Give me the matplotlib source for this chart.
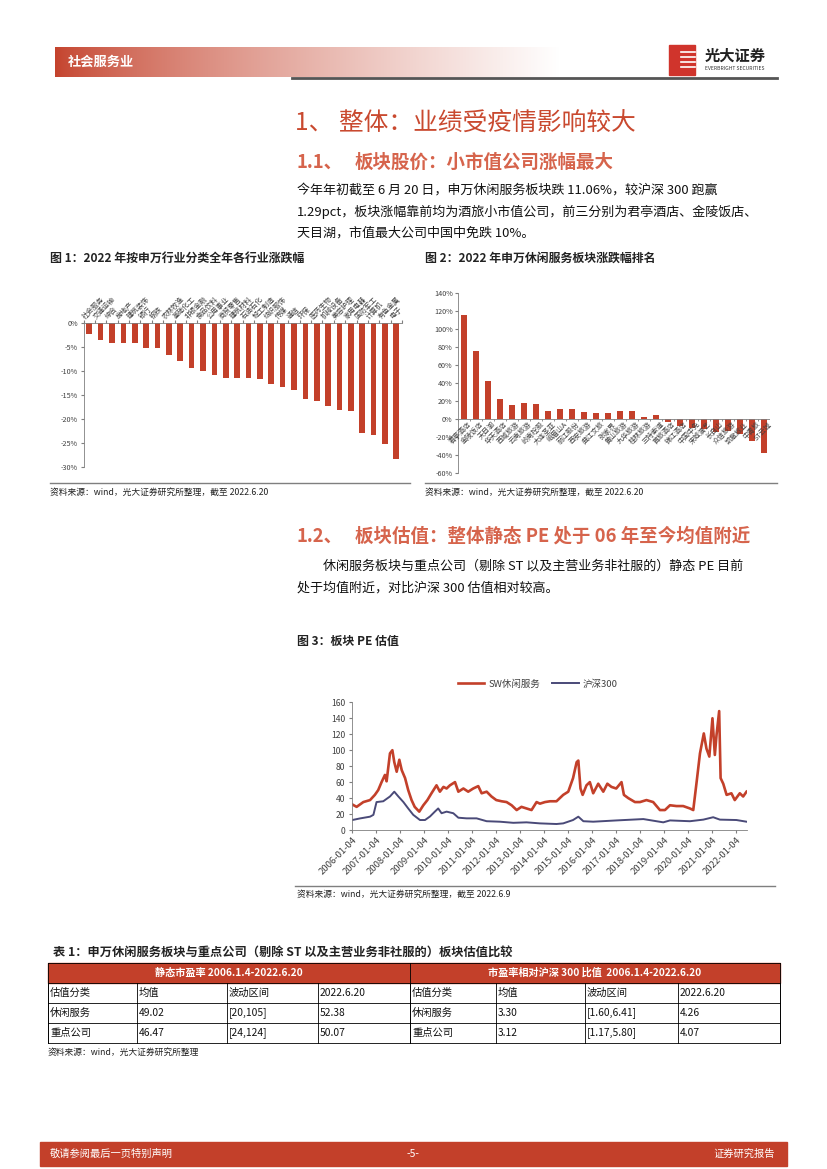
import numpy as np
import matplotlib
matplotlib.use('Agg')
import matplotlib.pyplot as plt
from matplotlib.patches import Rectangle

plt.rcParams['font.family'] = ['Noto Sans CJK SC', 'DejaVu Sans']
plt.rcParams['axes.unicode_minus'] = False

W, H = 827, 1169
RED = '#C3402A'
SALMON = '#D6644C'
GRAY = '#7F7F7F'
TXT = '#404040'

# 图1：申万一级行业涨跌幅（%）
ind_names = ['社会服务', '交通运输', '综合', '房地产', '建筑装饰', '银行', '钢铁', '农林牧渔',
             '基础化工', '非银金融', '食品饮料', '公用事业', '商贸零售', '建筑材料', '石油石化',
             '轻工制造', '纺织服饰', '传媒', '通信', '环保', '医药生物', '机械设备', '美容护理',
             '家用电器', '国防军工', '计算机', '有色金属', '电子']
ind_chg = [-2.3, -3.4, -4.2, -4.2, -4.2, -5.1, -5.1, -6.7, -7.8, -9.4, -9.9, -10.7, -11.3, -11.5,
           -11.5, -11.7, -12.6, -13.2, -13.8, -15.7, -16.1, -17.2, -18.0, -18.2, -22.9, -23.3,
           -25.1, -28.2]

# 图2：休闲服务板块个股涨跌幅（%）
stk_names = ['君亭酒店', '金陵饭店', '天目湖', '华天酒店', '西域旅游', '云南旅游', '岭南控股',
             '大连圣亚', '峨眉山A', '丽江股份', '西安旅游', '曲江文旅', '张家界', '黄山旅游',
             '九华旅游', '桂林旅游', '三特索道', '首旅酒店', '锦江酒店', '中国中免', '宋城演艺',
             '长白山', '众信旅游', '凯撒旅业', '中青旅', 'ST云城']
stk_chg = [116, 76, 42, 22, 15, 18, 17, 8.5, 11, 11, 7.4, 6.3, 6.3, 8.5, 8.5, 2.2, 4, -3.7, -8,
           -10, -11, -15, -13.7, -16.7, -25, -38]

# 图3：PE 估值
sw_x = [2006.0, 2006.18, 2006.46, 2006.74, 2006.94, 2007.08, 2007.22, 2007.36, 2007.43, 2007.57,
        2007.67, 2007.75, 2007.85, 2007.96, 2008.06, 2008.2, 2008.33, 2008.47, 2008.6, 2008.79,
        2008.96, 2009.13, 2009.3, 2009.51, 2009.65, 2009.8, 2009.93, 2010.07, 2010.28, 2010.42,
        2010.63, 2010.83, 2011.04, 2011.25, 2011.39, 2011.6, 2011.8, 2012.0, 2012.22, 2012.43,
        2012.64, 2012.85, 2013.05, 2013.26, 2013.47, 2013.68, 2013.82, 2014.03, 2014.24, 2014.51,
        2014.79, 2015.0, 2015.2, 2015.35, 2015.42, 2015.51, 2015.6, 2015.76, 2015.9, 2016.04,
        2016.25, 2016.46, 2016.63, 2016.8, 2017.0, 2017.22, 2017.32, 2017.5, 2017.78, 2017.99,
        2018.26, 2018.54, 2018.82, 2019.03, 2019.24, 2019.51, 2019.79, 2020.07, 2020.21, 2020.35,
        2020.49, 2020.65, 2020.76, 2020.88, 2021.01, 2021.11, 2021.18, 2021.29, 2021.35, 2021.46,
        2021.6, 2021.8, 2021.94, 2022.15, 2022.29, 2022.43]
sw_pe = [32, 29, 35, 37.5, 44, 50, 60, 69, 61, 96, 100, 85, 73, 88, 75, 65, 50, 37.5, 29, 23,
         31, 37.5, 46, 56, 48, 54, 52, 56, 60, 48, 52, 48, 52, 55, 46, 48, 42, 37.5, 36, 35,
         31, 25, 29, 27, 25, 35, 33, 35, 36, 36, 44, 48, 65, 85, 87, 52, 44, 56, 60, 46,
         58, 48, 58, 54, 52, 60, 44, 40, 35, 35, 37.5, 35, 25, 25, 31, 30, 30, 27, 25, 60,
         96, 121, 102, 92, 140, 94, 119, 149, 65, 58, 44, 46, 37.5, 46, 42, 48]
hs_x = [2006.0, 2006.32, 2006.74, 2006.88, 2007.01, 2007.29, 2007.57, 2007.75, 2007.92, 2008.13,
        2008.33, 2008.54, 2008.82, 2009.03, 2009.24, 2009.44, 2009.58, 2009.72, 2009.93, 2010.21,
        2010.42, 2010.76, 2011.18, 2011.6, 2012.15, 2012.71, 2013.26, 2013.82, 2014.51, 2014.79,
        2015.2, 2015.42, 2015.63, 2016.04, 2017.01, 2018.13, 2018.96, 2019.24, 2020.07, 2020.63,
        2021.04, 2021.32, 2022.01, 2022.43]
hs_pe = [12.5, 14.5, 16.7, 19, 35, 36, 42, 48, 42, 35, 27, 19, 12.5, 12.5, 17, 23, 27, 21, 23, 21,
         15.4, 14.6, 14.6, 11, 10.4, 9, 9.6, 8.3, 7.5, 8.3, 12.5, 16.7, 11, 10.4, 12, 13.7, 9.6,
         12, 11, 13, 16, 13, 12.5, 10.4]
years = list(range(2006, 2023))

# 表1
tbl_head = ['静态市盈率 2006.1.4-2022.6.20', '市盈率相对沪深 300 比值  2006.1.4-2022.6.20']
tbl_rows = [['估值分类', '均值', '波动区间', '2022.6.20', '估值分类', '均值', '波动区间', '2022.6.20'],
            ['休闲服务', '49.02', '[20,105]', '52.38', '休闲服务', '3.30', '[1.60,6.41]', '4.26'],
            ['重点公司', '46.47', '[24,124]', '50.07', '重点公司', '3.12', '[1.17,5.80]', '4.07']]

fig = plt.figure(figsize=(W / 100, H / 100), dpi=100)
bg = fig.add_axes([0, 0, 1, 1])
bg.axis('off')


def add_ax(l, t, r, b):
    return fig.add_axes([l / W, 1 - b / H, (r - l) / W, (b - t) / H])


# ---- 页眉
t = np.linspace(0, 1, 400) ** 0.75
c0 = np.array([196, 66, 44]) / 255
grad = c0[None, :] * (1 - t[:, None]) + np.ones(3)[None, :] * t[:, None]
bg.imshow(grad[None, :, :], extent=(55, 560, 77, 47), aspect='auto', zorder=0)
bg.text(68, 62, '社会服务业', color='white', fontsize=9.5, fontweight='bold', va='center')
bg.plot([292, 777], [77.5, 77.5], color='#555555', lw=2)
bg.add_patch(Rectangle((669, 45), 26, 30, color='#D0342C'))
for yy in [52, 57, 62, 67]:
    bg.plot([681, 695], [yy, yy], color='white', lw=1.2)
bg.text(705, 56, '光大证券', fontsize=11, fontweight='bold', va='center', color='#222222')
bg.text(705, 69, 'EVERBRIGHT SECURITIES', fontsize=3.6, va='center', color='#333333')

# ---- 正文
bg.text(295, 124, '1、 整体：业绩受疫情影响较大', fontsize=17.8, color='#C9492F', va='center')
bg.text(297, 162, '1.1、', fontsize=13.3, color=SALMON, va='center', fontweight='bold')
bg.text(355, 162, '板块股价：小市值公司涨幅最大', fontsize=13.3, color=SALMON, va='center', fontweight='bold')
body1 = ['今年年初截至 6 月 20 日，申万休闲服务板块跌 11.06%，较沪深 300 跑赢',
         '1.29pct，板块涨幅靠前均为酒旅小市值公司，前三分别为君亭酒店、金陵饭店、',
         '天目湖，市值最大公司中国中免跌 10%。']
for i, s in enumerate(body1):
    bg.text(297, 190 + i * 21.5, s, fontsize=9.4, va='center', color='#111111')

bg.text(50, 258, '图 1：2022 年按申万行业分类全年各行业涨跌幅', fontsize=8.6, fontweight='bold', va='center', color='#222222')
bg.text(425, 258, '图 2：2022 年申万休闲服务板块涨跌幅排名', fontsize=8.6, fontweight='bold', va='center', color='#222222')
bg.plot([50, 410], [483, 483], color=GRAY, lw=1)
bg.plot([425, 777], [483, 483], color=GRAY, lw=1)
src = '资料来源：wind，光大证券研究所整理，截至 2022.6.20'
bg.text(50, 492, src, fontsize=6.3, va='center', color='#222222')
bg.text(425, 492, src, fontsize=6.3, va='center', color='#222222')

bg.text(297, 536, '1.2、', fontsize=13.3, color=SALMON, va='center', fontweight='bold')
bg.text(355, 536, '板块估值：整体静态 PE 处于 06 年至今均值附近', fontsize=13.3, color=SALMON, va='center', fontweight='bold')
bg.text(323, 566, '休闲服务板块与重点公司（剔除 ST 以及主营业务非社服的）静态 PE 目前', fontsize=9.4, va='center', color='#111111')
bg.text(297, 588, '处于均值附近，对比沪深 300 估值相对较高。', fontsize=9.4, va='center', color='#111111')
bg.text(297, 641, '图 3：板块 PE 估值', fontsize=8.6, fontweight='bold', va='center', color='#222222')
bg.plot([295, 775], [886, 886], color=GRAY, lw=1)
bg.text(297, 894, '资料来源：wind，光大证券研究所整理，截至 2022.6.9', fontsize=6.3, va='center', color='#222222')

# ---- 表格
bg.text(53, 953, '表 1：申万休闲服务板块与重点公司（剔除 ST 以及主营业务非社服的）板块估值比较',
        fontsize=8.8, fontweight='bold', va='center', color='#222222')
cols = [48, 137, 227, 318, 410, 496, 585, 678, 780]
row_y = [963, 983, 1003, 1023, 1043]
bg.add_patch(Rectangle((48, 963), 732, 20, color=RED, zorder=1))
bg.text(229, 973, tbl_head[0], color='white', fontsize=7.3, fontweight='bold', ha='center', va='center')
bg.text(595, 973, tbl_head[1], color='white', fontsize=7.3, fontweight='bold', ha='center', va='center')
for y in row_y:
    bg.plot([48, 780], [y, y], color='black', lw=0.6)
for x in [48, 410, 780]:
    bg.plot([x, x], [963, 1043], color='black', lw=0.6)
for x in cols:
    bg.plot([x, x], [983, 1043], color='black', lw=0.6)
for r, row in enumerate(tbl_rows):
    for c, s in enumerate(row):
        bg.text(cols[c] + 2, row_y[r + 1] + 10, s, fontsize=7.4, va='center', color='#111111')
bg.text(48, 1052, '资料来源：wind，光大证券研究所整理', fontsize=6.3, va='center', color='#222222')

# ---- 页脚
bg.add_patch(Rectangle((40, 1142), 747, 24, color=RED))
bg.text(50, 1154, '敬请参阅最后一页特别声明', color='white', fontsize=7.4, va='center')
bg.text(413, 1154, '-5-', color='white', fontsize=7.4, va='center', ha='center')
bg.text(775, 1154, '证券研究报告', color='white', fontsize=7.4, va='center', ha='right')

bg.set_xlim(0, W)
bg.set_ylim(H, 0)

# ---- 图1
ax1 = add_ax(83.6, 323.3, 402, 467.3)
ax1.bar(range(len(ind_chg)), ind_chg, width=0.5, color=RED)
ax1.set_xlim(-0.5, len(ind_chg) - 0.5)
ax1.set_ylim(-30, 0)
ax1.set_yticks(range(-30, 1, 5))
ax1.set_yticklabels([f'{v}%' for v in range(-30, 1, 5)])
ax1.xaxis.tick_top()
ax1.set_xticks(np.arange(-0.5, len(ind_chg), 1))
ax1.tick_params(axis='x', length=2, color=GRAY, labeltop=False)
ax1.tick_params(axis='y', length=2, color=GRAY, labelsize=5.2, labelcolor=TXT, pad=2)
for s in ['right', 'bottom']:
    ax1.spines[s].set_visible(False)
for s in ['left', 'top']:
    ax1.spines[s].set_color(GRAY)
    ax1.spines[s].set_linewidth(0.6)
for i, name in enumerate(ind_names):
    ax1.text(i - 0.25, 0.5, name, rotation=45, ha='left', va='bottom', rotation_mode='anchor',
             fontsize=5.0, color=TXT, clip_on=False)

# ---- 图2
ax2 = add_ax(458.3, 293.3, 770.3, 472.7)
ax2.bar(range(len(stk_chg)), stk_chg, width=0.5, color=RED)
ax2.set_xlim(-0.5, len(stk_chg) - 0.5)
ax2.set_ylim(-60, 140)
ax2.set_yticks(range(-60, 141, 20))
ax2.set_yticklabels([f'{v}%' for v in range(-60, 141, 20)])
ax2.set_xticks([])
ax2.tick_params(axis='y', length=2, color=GRAY, labelsize=5.2, labelcolor=TXT, pad=2)
for s in ['right', 'bottom', 'top']:
    ax2.spines[s].set_visible(False)
ax2.spines['left'].set_color(GRAY)
ax2.spines['left'].set_linewidth(0.6)
ax2.axhline(0, color=GRAY, lw=0.6)
ax2.vlines(np.arange(-0.5, len(stk_chg), 1), -2, 0, color=GRAY, lw=0.6)
for i, name in enumerate(stk_names):
    ax2.text(i + 0.3, -2, name, rotation=45, ha='right', va='top', rotation_mode='anchor',
             fontsize=5.0, color=TXT, clip_on=False)

# ---- 图3
ax3 = add_ax(352.3, 702.3, 747, 830)
ax3.plot(sw_x, sw_pe, color=RED, lw=1.9, label='SW休闲服务')
ax3.plot(hs_x, hs_pe, color='#4A4A78', lw=1.4, label='沪深300')
ax3.set_xlim(2006.0, 2022.45)
ax3.set_ylim(0, 160)
ax3.set_yticks(range(0, 161, 20))
ax3.set_xticks([y + 0.008 for y in years])
ax3.set_xticklabels([f'{y}-01-04' for y in years], rotation=45, ha='right', rotation_mode='anchor')
ax3.tick_params(axis='y', length=2, color=GRAY, labelsize=6.2, labelcolor=TXT, pad=3)
ax3.tick_params(axis='x', length=2, color=GRAY, labelsize=6.8, labelcolor=TXT, pad=2)
for s in ['right', 'top']:
    ax3.spines[s].set_visible(False)
for s in ['left', 'bottom']:
    ax3.spines[s].set_color(GRAY)
    ax3.spines[s].set_linewidth(0.6)
ax3.legend(loc='lower center', bbox_to_anchor=(0.47, 1.04), ncol=2, frameon=False, fontsize=6.8,
           handlelength=2.8, handletextpad=0.4, columnspacing=1.3, labelcolor=TXT)

fig.savefig('out.png', dpi=100)
